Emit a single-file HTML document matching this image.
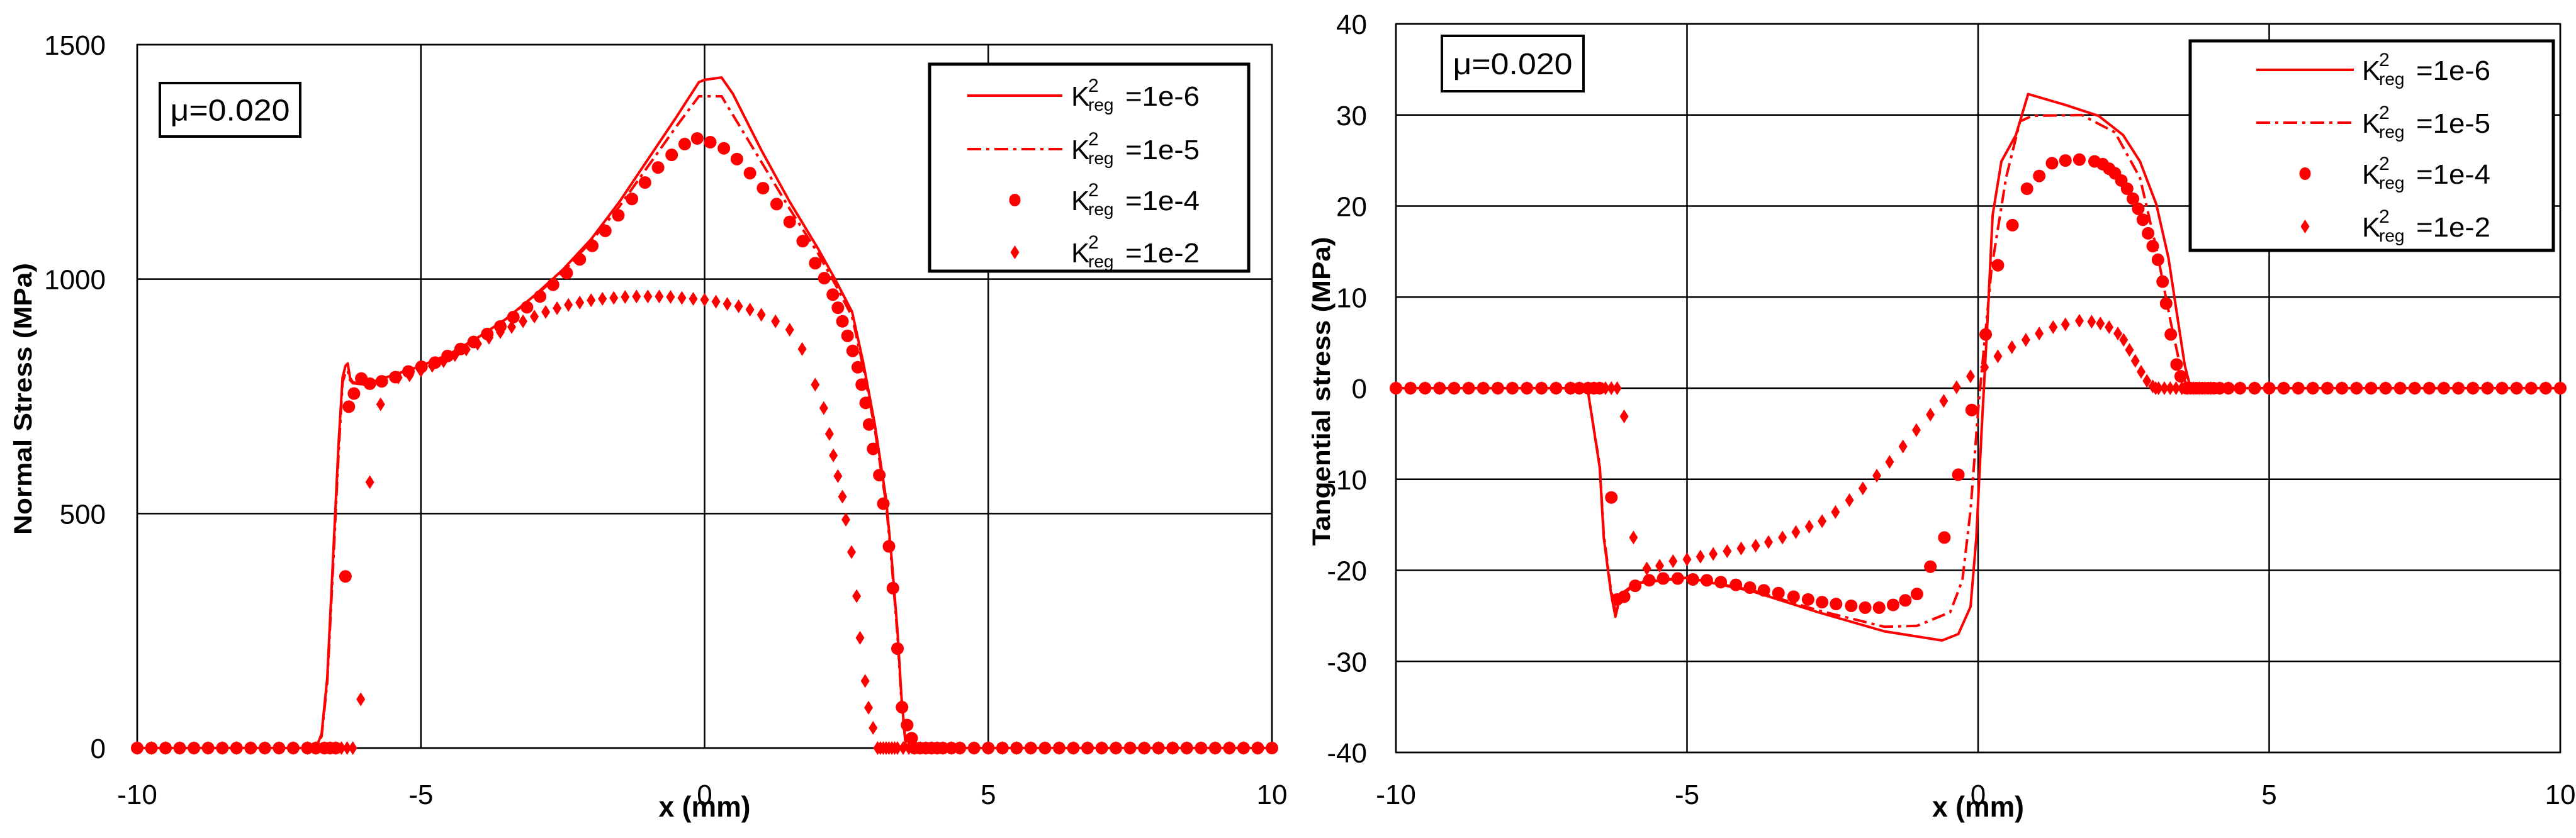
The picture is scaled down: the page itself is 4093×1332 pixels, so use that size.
<!DOCTYPE html>
<html><head><meta charset="utf-8"><style>
html,body{margin:0;padding:0;background:#fff;}
svg{display:block;}
text{font-family:"Liberation Sans",sans-serif;}
</style></head>
<body>
<svg id="s" width="4093" height="1332" viewBox="0 0 4093 1332" xmlns="http://www.w3.org/2000/svg"></svg>
<script>
// ===== Left chart data (Normal stress) =====
const nXTicks = [-10,-5,0,5,10];
const nYTicks = [0,500,1000,1500];
const nL6x = [-10,-6.85,-6.75,-6.65,-6.55,-6.45,-6.38,-6.33,-6.29,-6.25,-6.2,-6.0,-5.5,-5.0,-4.5,-4.0,-3.5,-3.0,-2.5,-2.0,-1.5,-1.0,-0.5,-0.1,0.0,0.3,0.5,1.0,1.5,2.0,2.3,2.6,2.8,3.0,3.2,3.3,3.4,3.47,3.55,10];
const nL6y = [0,0,30,150,400,650,790,815,820,790,780,775,795,815,840,875,915,965,1020,1085,1165,1255,1345,1420,1425,1430,1395,1275,1165,1065,1000,930,820,690,530,400,250,110,0,0];
const nL5x = [-10,-6.85,-6.75,-6.65,-6.55,-6.45,-6.38,-6.33,-6.29,-6.25,-6.2,-6.0,-5.5,-5.0,-4.5,-4.0,-3.5,-3.0,-2.5,-2.0,-1.5,-1.0,-0.5,-0.1,0.3,0.5,1.0,1.5,2.0,2.3,2.6,2.8,3.0,3.2,3.3,3.4,3.47,3.55,10];
const nL5y = [0,0,25,140,380,630,780,800,805,785,778,775,795,815,840,875,915,963,1015,1080,1155,1240,1325,1390,1390,1350,1250,1150,1055,990,920,810,680,520,390,240,100,0,0];
const nC4x = [-10,-9.75,-9.5,-9.25,-9,-8.75,-8.5,-8.25,-8,-7.75,-7.5,-7.25,-7,-6.85,-6.7,-6.6,-6.5,-6.33,-6.27,-6.18,-6.05,-5.90,-5.69,-5.45,-5.22,-4.99,-4.75,-4.53,-4.30,-4.07,-3.83,-3.60,-3.37,-3.13,-2.90,-2.67,-2.43,-2.20,-1.98,-1.75,-1.52,-1.28,-1.05,-0.82,-0.58,-0.35,-0.13,0.10,0.34,0.57,0.80,1.03,1.27,1.50,1.73,1.95,2.11,2.26,2.35,2.43,2.52,2.61,2.70,2.77,2.84,2.90,2.97,3.08,3.15,3.25,3.32,3.40,3.48,3.57,3.65,3.7,3.8,3.9,4.0,4.1,4.2,4.35,4.5,4.75,5,5.25,5.5,5.75,6,6.25,6.5,6.75,7,7.25,7.5,7.75,8,8.25,8.5,8.75,9,9.25,9.5,9.75,10];
const nC4y = [0,0,0,0,0,0,0,0,0,0,0,0,0,0,0,0,0,366,728,756,788,777,782,791,803,813,822,836,851,866,883,899,919,940,963,988,1013,1042,1071,1103,1136,1171,1206,1238,1265,1288,1300,1292,1279,1256,1226,1194,1160,1122,1081,1034,1002,967,939,910,879,847,812,775,736,690,638,582,521,430,341,212,87,49,21,0,0,0,0,0,0,0,0,0,0,0,0,0,0,0,0,0,0,0,0,0,0,0,0,0,0,0,0,0,0];
const nD2x = [-10,-9.75,-9.5,-9.25,-9,-8.75,-8.5,-8.25,-8,-7.75,-7.5,-7.25,-7,-6.85,-6.7,-6.6,-6.5,-6.4,-6.3,-6.2,-6.06,-5.90,-5.71,-5.4,-5.2,-5.0,-4.8,-4.6,-4.4,-4.2,-4.0,-3.8,-3.6,-3.4,-3.2,-3.0,-2.8,-2.6,-2.4,-2.2,-2.0,-1.8,-1.6,-1.4,-1.2,-1.0,-0.8,-0.6,-0.4,-0.2,0,0.2,0.4,0.6,0.8,1.0,1.25,1.5,1.72,1.95,2.1,2.2,2.27,2.35,2.43,2.49,2.59,2.68,2.74,2.83,2.89,2.97,3.05,3.1,3.15,3.2,3.25,3.3,3.35,3.4,3.5,3.6,3.7,3.8,3.9,4.0,4.1,4.2,4.35,4.5,4.75,5,5.25,5.5,5.75,6,6.25,6.5,6.75,7,7.25,7.5,7.75,8,8.25,8.5,8.75,9,9.25,9.5,9.75,10];
const nD2y = [0,0,0,0,0,0,0,0,0,0,0,0,0,0,0,0,0,0,0,0,104,567,733,790,795,805,815,825,838,850,862,875,887,898,910,920,930,938,945,950,955,958,960,962,963,963,963,962,960,958,956,952,947,942,935,924,910,892,851,775,725,670,624,580,536,487,418,324,235,143,86,43,0,0,0,0,0,0,0,0,0,0,0,0,0,0,0,0,0,0,0,0,0,0,0,0,0,0,0,0,0,0,0,0,0,0,0,0,0,0,0];

// ===== Right chart data (Tangential stress) =====
const tXTicks = [-10,-5,0,5,10];
const tYTicks = [-40,-30,-20,-10,0,10,20,30,40];
const tL6x = [-10,-6.71,-6.5,-6.43,-6.31,-6.23,-6.15,-5.86,-5.0,-3.88,-2.75,-1.61,-0.62,-0.34,-0.13,-0.03,0.06,0.16,0.25,0.4,0.65,0.86,1.5,2.07,2.49,2.78,3.06,3.27,3.41,3.55,3.65,10];
const tL6y = [0,0,-8.7,-16.4,-22.3,-25.1,-22.9,-21.4,-20.8,-22.3,-24.6,-26.7,-27.7,-27,-24,-16.4,-4.6,7.2,19,24.9,27.8,32.3,31.1,29.9,27.8,24.9,20.2,14.3,8.4,2.5,0,0];
const tL5x = [-10,-6.71,-6.5,-6.43,-6.31,-6.23,-6.15,-5.86,-5.0,-3.88,-2.75,-1.61,-1.05,-0.48,-0.27,-0.13,0.01,0.23,0.48,0.72,0.93,1.78,2.35,2.78,3.06,3.31,3.51,3.62,10];
const tL5y = [0,0,-8.5,-16,-22,-24.5,-22.7,-21.3,-20.8,-22.2,-24.4,-26.2,-26.1,-24.6,-21.1,-13.4,-1.7,13.1,23.1,29.3,29.9,30,28.1,23.1,15.4,7.2,1.3,0,0];
const tC4x = [-10,-9.75,-9.5,-9.25,-9,-8.75,-8.5,-8.25,-8,-7.75,-7.5,-7.25,-7,-6.85,-6.7,-6.6,-6.5,-6.3,-6.2,-6.08,-5.89,-5.65,-5.41,-5.16,-4.90,-4.66,-4.42,-4.16,-3.92,-3.68,-3.43,-3.17,-2.92,-2.68,-2.44,-2.18,-1.94,-1.70,-1.46,-1.25,-1.05,-0.82,-0.58,-0.34,-0.11,0.13,0.34,0.59,0.84,1.05,1.27,1.50,1.74,2.00,2.14,2.25,2.35,2.46,2.56,2.66,2.75,2.83,2.92,3.00,3.09,3.17,3.23,3.31,3.41,3.48,3.58,3.65,3.75,3.85,3.95,4.05,4.15,4.3,4.5,4.75,5,5.25,5.5,5.75,6,6.25,6.5,6.75,7,7.25,7.5,7.75,8,8.25,8.5,8.75,9,9.25,9.5,9.75,10];
const tC4y = [0,0,0,0,0,0,0,0,0,0,0,0,0,0,0,0,0,-12,-23.2,-22.9,-21.7,-21.1,-20.9,-20.9,-21.0,-21.1,-21.3,-21.6,-21.9,-22.2,-22.5,-22.9,-23.2,-23.5,-23.7,-23.9,-24.1,-24.1,-23.8,-23.3,-22.6,-19.6,-16.4,-9.5,-2.4,5.9,13.5,17.9,21.9,23.3,24.7,25.0,25.1,24.9,24.6,24.1,23.6,22.8,21.9,20.8,19.7,18.5,17.0,15.6,14.1,11.7,9.3,5.9,2.6,1.3,0,0,0,0,0,0,0,0,0,0,0,0,0,0,0,0,0,0,0,0,0,0,0,0,0,0,0,0,0,0,0];
const tD2x = [-10,-9.75,-9.5,-9.25,-9,-8.75,-8.5,-8.25,-8,-7.75,-7.5,-7.25,-7,-6.85,-6.7,-6.6,-6.5,-6.4,-6.3,-6.2,-6.08,-5.92,-5.69,-5.47,-5.24,-5.0,-4.77,-4.55,-4.31,-4.07,-3.82,-3.6,-3.36,-3.13,-2.9,-2.68,-2.45,-2.21,-1.98,-1.74,-1.52,-1.29,-1.06,-0.82,-0.59,-0.37,-0.13,0.11,0.34,0.58,0.82,1.05,1.29,1.5,1.74,1.95,2.1,2.25,2.4,2.5,2.6,2.7,2.8,2.9,3.0,3.05,3.1,3.2,3.3,3.4,3.5,3.6,3.7,3.8,3.9,4.0,4.15,4.3,4.5,4.75,5,5.25,5.5,5.75,6,6.25,6.5,6.75,7,7.25,7.5,7.75,8,8.25,8.5,8.75,9,9.25,9.5,9.75,10];
const tD2y = [0,0,0,0,0,0,0,0,0,0,0,0,0,0,0,0,0,0,0,0,-3.1,-16.4,-19.8,-19.5,-19.0,-18.8,-18.5,-18.2,-17.9,-17.6,-17.3,-16.9,-16.4,-15.8,-15.2,-14.6,-13.6,-12.3,-11.0,-9.6,-8.1,-6.4,-4.6,-2.9,-1.4,0.1,1.3,2.3,3.5,4.5,5.3,6.0,6.7,7.0,7.4,7.3,7.1,6.7,6.0,5.3,4.2,3.0,1.8,0.8,0.2,0,0,0,0,0,0,0,0,0,0,0,0,0,0,0,0,0,0,0,0,0,0,0,0,0,0,0,0,0,0,0,0,0,0,0,0];

const NS = "http://www.w3.org/2000/svg";
const svg = document.getElementById('s');
function mk(tag, attrs, parent){ const e=document.createElementNS(NS,tag); for(const k in attrs) e.setAttribute(k,attrs[k]); (parent||svg).appendChild(e); return e; }
const RED = "#ff0000";

function chart(c){
  const g = mk('g',{});
  
  
  const sx = v => c.x0 + (v - c.xmin)/(c.xmax - c.xmin)*(c.x1 - c.x0);
  const sy = v => c.y1 - (v - c.ymin)/(c.ymax - c.ymin)*(c.y1 - c.y0);
  c.xt.forEach(t=>{
    const l = mk('line',{x1:sx(t),x2:sx(t),y1:c.y0,y2:c.y1,stroke:'#000','stroke-width':2.5},g);
    
    
    const tx = mk('text',{x:sx(t),y:c.xlabY,'font-size':44,'text-anchor':'middle',fill:'#000'},g);
    
    
    tx.textContent = t;
  });
  c.yt.forEach(t=>{
    const l = mk('line',{x1:c.x0,x2:c.x1,y1:sy(t),y2:sy(t),stroke:'#000','stroke-width':2.5},g);
    
    
    const tx = mk('text',{x:c.ylabX,y:sy(t)+16,'font-size':44,'text-anchor':'end',fill:'#000'},g);
    
    
    tx.textContent = t;
  });
  const fr = mk('rect',{x:c.x0,y:c.y0,width:c.x1-c.x0,height:c.y1-c.y0,fill:'none',stroke:'#000','stroke-width':2.5},g);
  
  
  const path = (xs,ys)=> xs.map((x,i)=>(i?'L':'M')+sx(x).toFixed(1)+' '+sy(ys[i]).toFixed(1)).join(' ');
  const p6 = mk('path',{d:path(c.l6x,c.l6y),fill:'none',stroke:RED,'stroke-width':4,'stroke-linejoin':'round'},g);
  
  
  const p5 = mk('path',{d:path(c.l5x,c.l5y),fill:'none',stroke:RED,'stroke-width':4,'stroke-dasharray':'22 8 5 8'},g);
  
  
  c.c4x.forEach((x,i)=>{
    const m = mk('ellipse',{cx:sx(x),cy:sy(c.c4y[i]),rx:10,ry:10,fill:RED},g);
    
    
  });
  c.d2x.forEach((x,i)=>{
    const X=sx(x), Y=sy(c.d2y[i]);
    const m = mk('polygon',{points:`${X},${Y-11} ${X+7},${Y} ${X},${Y+11} ${X-7},${Y}`,fill:RED},g);
    
    
  });
  const mb = mk('rect',{x:c.mu[0],y:c.mu[1],width:c.mu[2],height:c.mu[3],fill:'#fff',stroke:'#000','stroke-width':4},g);
  
  
  const mt = mk('text',{x:c.mu[0]+c.mu[2]/2,y:c.mu[1]+c.mu[3]/2+17,'font-size':48,'text-anchor':'middle',fill:'#000',textLength:190,lengthAdjust:'spacingAndGlyphs'},g);
  
  
  mt.textContent = 'μ=0.020';
  const lb = mk('rect',{x:c.lg[0],y:c.lg[1],width:c.lg[2],height:c.lg[3],fill:'#fff',stroke:'#000','stroke-width':5},g);
  
  
  const labels=['=1e-6','=1e-5','=1e-4','=1e-2'];
  labels.forEach((lab,i)=>{
    const y = c.lgRows[i];
    const eg = mk('g',{},g);
    
    
    if(i===0) mk('line',{x1:c.lgLine[0],x2:c.lgLine[1],y1:y,y2:y,stroke:RED,'stroke-width':4},eg);
    if(i===1) mk('line',{x1:c.lgLine[0],x2:c.lgLine[1],y1:y,y2:y,stroke:RED,'stroke-width':4,'stroke-dasharray':'22 8 5 8'},eg);
    const mx=(c.lgLine[0]+c.lgLine[1])/2;
    if(i===2) mk('ellipse',{cx:mx,cy:y,rx:9,ry:10,fill:RED},eg);
    if(i===3) mk('polygon',{points:`${mx},${y-11} ${mx+7},${y} ${mx},${y+11} ${mx-7},${y}`,fill:RED},eg);
    const tx=c.lgText;
    const t1=mk('text',{x:tx,y:y+16,'font-size':44,fill:'#000'},eg); t1.textContent='K';
    const t2=mk('text',{x:tx+27,y:y-6,'font-size':30,fill:'#000'},eg); t2.textContent='2';
    const t3=mk('text',{x:tx+27,y:y+24,'font-size':28,fill:'#000'},eg); t3.textContent='reg';
    const t4=mk('text',{x:tx+86,y:y+16,'font-size':44,fill:'#000',textLength:118,lengthAdjust:'spacingAndGlyphs'},eg); t4.textContent=lab;
  });
  const xt = mk('text',{x:(c.x0+c.x1)/2,y:1298,'font-size':46,'font-weight':'bold','text-anchor':'middle',fill:'#000',textLength:146,lengthAdjust:'spacingAndGlyphs'},g);
  
  
  xt.textContent='x (mm)';
  const yt = mk('text',{x:0,y:0,'font-size':40,'font-weight':'bold','text-anchor':'middle',fill:'#000',transform:`translate(${c.ytX},${c.ytY}) rotate(-90)`,textLength:c.ytLen,lengthAdjust:'spacingAndGlyphs'},g);
  
  
  yt.textContent=c.ytitle;
}

chart({name:'normal-stress-chart',x0:218,x1:2021,y0:71,y1:1189,xmin:-10,xmax:10,ymin:0,ymax:1500,
  xt:nXTicks,yt:nYTicks,xlabY:1278,ylabX:168,
  l6x:nL6x,l6y:nL6y,l5x:nL5x,l5y:nL5y,c4x:nC4x,c4y:nC4y,d2x:nD2x,d2y:nD2y,
  mu:[254,132,223,85],lg:[1477,102,507,329],lgRows:[152,237,318,401],lgLine:[1537,1688],lgText:1702,
  ytX:50,ytY:634,ytLen:432,ytitle:'Normal Stress (MPa)'});
chart({name:'tangential-stress-chart',x0:2218,x1:4068,y0:38,y1:1196,xmin:-10,xmax:10,ymin:-40,ymax:40,
  xt:tXTicks,yt:tYTicks,xlabY:1278,ylabX:2172,
  l6x:tL6x,l6y:tL6y,l5x:tL5x,l5y:tL5y,c4x:tC4x,c4y:tC4y,d2x:tD2x,d2y:tD2y,
  mu:[2291,57,225,88],lg:[3480,65,577,333],lgRows:[111,195,276,360],lgLine:[3585,3740],lgText:3753,
  ytX:2113,ytY:622,ytLen:491,ytitle:'Tangential stress (MPa)'});
</script>
</body></html>
